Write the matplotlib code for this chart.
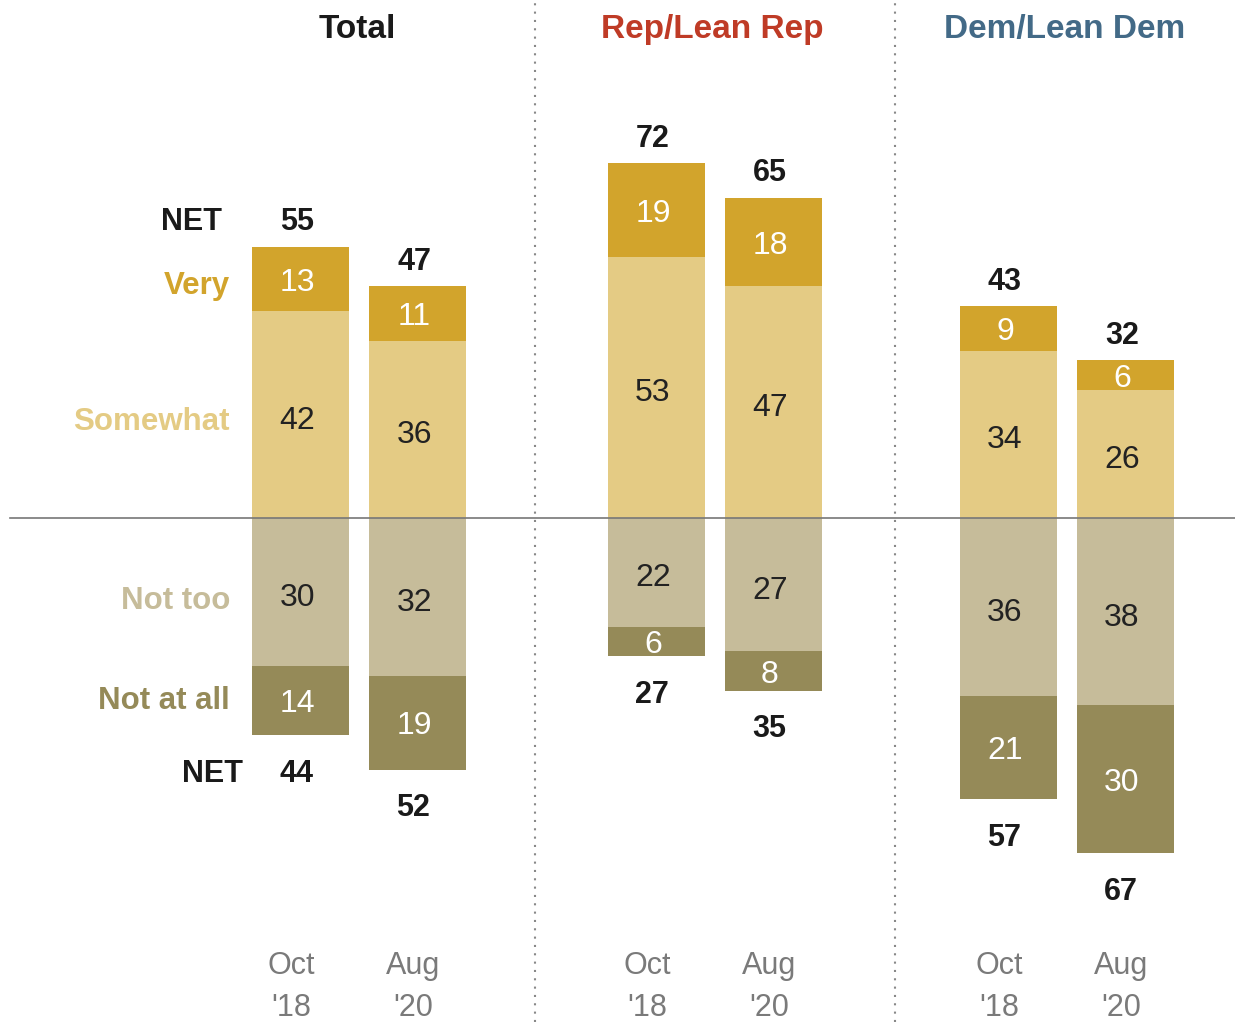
import matplotlib
matplotlib.use("Agg")
import matplotlib.pyplot as plt

# ---------------- data ----------------
groups = ["Total", "Rep/Lean Rep", "Dem/Lean Dem"]
period_month = ["Oct", "Aug"]
period_year = ["'18", "'20"]
very = [13, 11, 19, 18, 9, 6]
somewhat = [42, 36, 53, 47, 34, 26]
not_too = [30, 32, 22, 27, 36, 38]
not_at_all = [14, 19, 6, 8, 21, 30]
net_pos = [55, 47, 72, 65, 43, 32]
net_neg = [44, 52, 27, 35, 57, 67]
row_labels = ["Very", "Somewhat", "Not too", "Not at all"]

# ---------------- style ----------------
C_VERY = "#D2A42C"
C_SOME = "#E4CB84"
C_NOTTOO = "#C6BC9A"
C_NOTALL = "#958A58"
TITLE_COLORS = ["#1a1a1a", "#BF3B26", "#436A87"]
FONT = ["Liberation Sans", "DejaVu Sans"]

fig = plt.figure(figsize=(12.35, 10.22), dpi=100)
ax = fig.add_axes([0, 0, 1, 1])
ax.set_xlim(0, 1235)
ax.set_ylim(-102.2, 105.1)
ax.axis("off")

group_centers = [359, 714.5, 1066.5]
offset = 58.5
width = 97

xs = []
for gc in group_centers:
    xs.extend([gc - offset, gc + offset])

# bars
ax.bar(xs, somewhat, width=width, color=C_SOME, zorder=2)
ax.bar(xs, very, width=width, bottom=somewhat, color=C_VERY, zorder=2)
neg_nt = [-v for v in not_too]
ax.bar(xs, neg_nt, width=width, color=C_NOTTOO, zorder=2)
ax.bar(xs, [-v for v in not_at_all], width=width, bottom=neg_nt, color=C_NOTALL, zorder=2)

fs_num = 23
dy = -1.2   # small vertical nudge for in-bar labels
for i, x in enumerate(xs):
    s, v, nt, na = somewhat[i], very[i], not_too[i], not_at_all[i]
    tx = x - 3
    ax.text(tx, s / 2 + dy, str(s), ha="center", va="center", fontsize=fs_num,
            color="#222222", family=FONT, zorder=3)
    ax.text(tx, s + v / 2 + dy * 0.6, str(v), ha="center", va="center", fontsize=fs_num,
            color="white", family=FONT, zorder=3)
    ax.text(tx, -nt / 2 + dy, str(nt), ha="center", va="center", fontsize=fs_num,
            color="#222222", family=FONT, zorder=3)
    ax.text(tx, -nt - na / 2 + dy * 0.6, str(na), ha="center", va="center", fontsize=fs_num,
            color="white", family=FONT, zorder=3)
    # NET labels
    ax.text(tx, s + v + 5.0, str(net_pos[i]), ha="center", va="center",
            fontsize=22, fontweight="bold", color="#1a1a1a", family=FONT)
    ax.text(tx - 1, -nt - na - 7.8, str(net_neg[i]), ha="center", va="center",
            fontsize=22, fontweight="bold", color="#1a1a1a", family=FONT)

# left row labels aligned with Total Oct bar
x0 = xs[0]
lab_x = x0 - width / 2 - 22
s0, v0, nt0, na0 = somewhat[0], very[0], not_too[0], not_at_all[0]
ax.text(lab_x, s0 + v0 / 2 - 1.5, row_labels[0], ha="right", va="center", fontsize=22.5,
        fontweight="bold", color=C_VERY, family=FONT)
ax.text(lab_x, s0 / 2 - 1.5, row_labels[1], ha="right", va="center", fontsize=22.5,
        fontweight="bold", color=C_SOME, family=FONT)
ax.text(lab_x, -nt0 / 2 - 1.8, row_labels[2], ha="right", va="center", fontsize=22.5,
        fontweight="bold", color=C_NOTTOO, family=FONT)
ax.text(lab_x, -nt0 - na0 / 2, row_labels[3], ha="right", va="center", fontsize=22.5,
        fontweight="bold", color=C_NOTALL, family=FONT)
ax.text(lab_x - 8, s0 + v0 + 5.0, "NET", ha="right", va="center", fontsize=22,
        fontweight="bold", color="#1a1a1a", family=FONT)
ax.text(x0 - 57, -nt0 - na0 - 7.8, "NET", ha="right", va="center", fontsize=22,
        fontweight="bold", color="#1a1a1a", family=FONT)

# group titles
for gc, g, c in zip(group_centers, groups, TITLE_COLORS):
    ax.text(gc - 2, 99.2, g, ha="center", va="center", fontsize=24,
            fontweight="bold", color=c, family=FONT)

# period labels
for i, x in enumerate(xs):
    k = i % 2
    px = x - (9 if k == 0 else 4)
    ax.text(px, -90.8, period_month[k], ha="center", va="center", fontsize=22,
            color="#7a7a7a", family=FONT)
    ax.text(px, -99.3, period_year[k], ha="center", va="center", fontsize=22,
            color="#7a7a7a", family=FONT)

# zero line and dividers
ax.plot([10, 1235], [0, 0], color="#777777", lw=1.2, zorder=4)
for dx in [535, 895]:
    ax.plot([dx, dx], [-102.2, 105.1], color="#888888", lw=1.5,
            linestyle=(0, (1, 3)), zorder=1)

fig.savefig("out.png", dpi=100)
